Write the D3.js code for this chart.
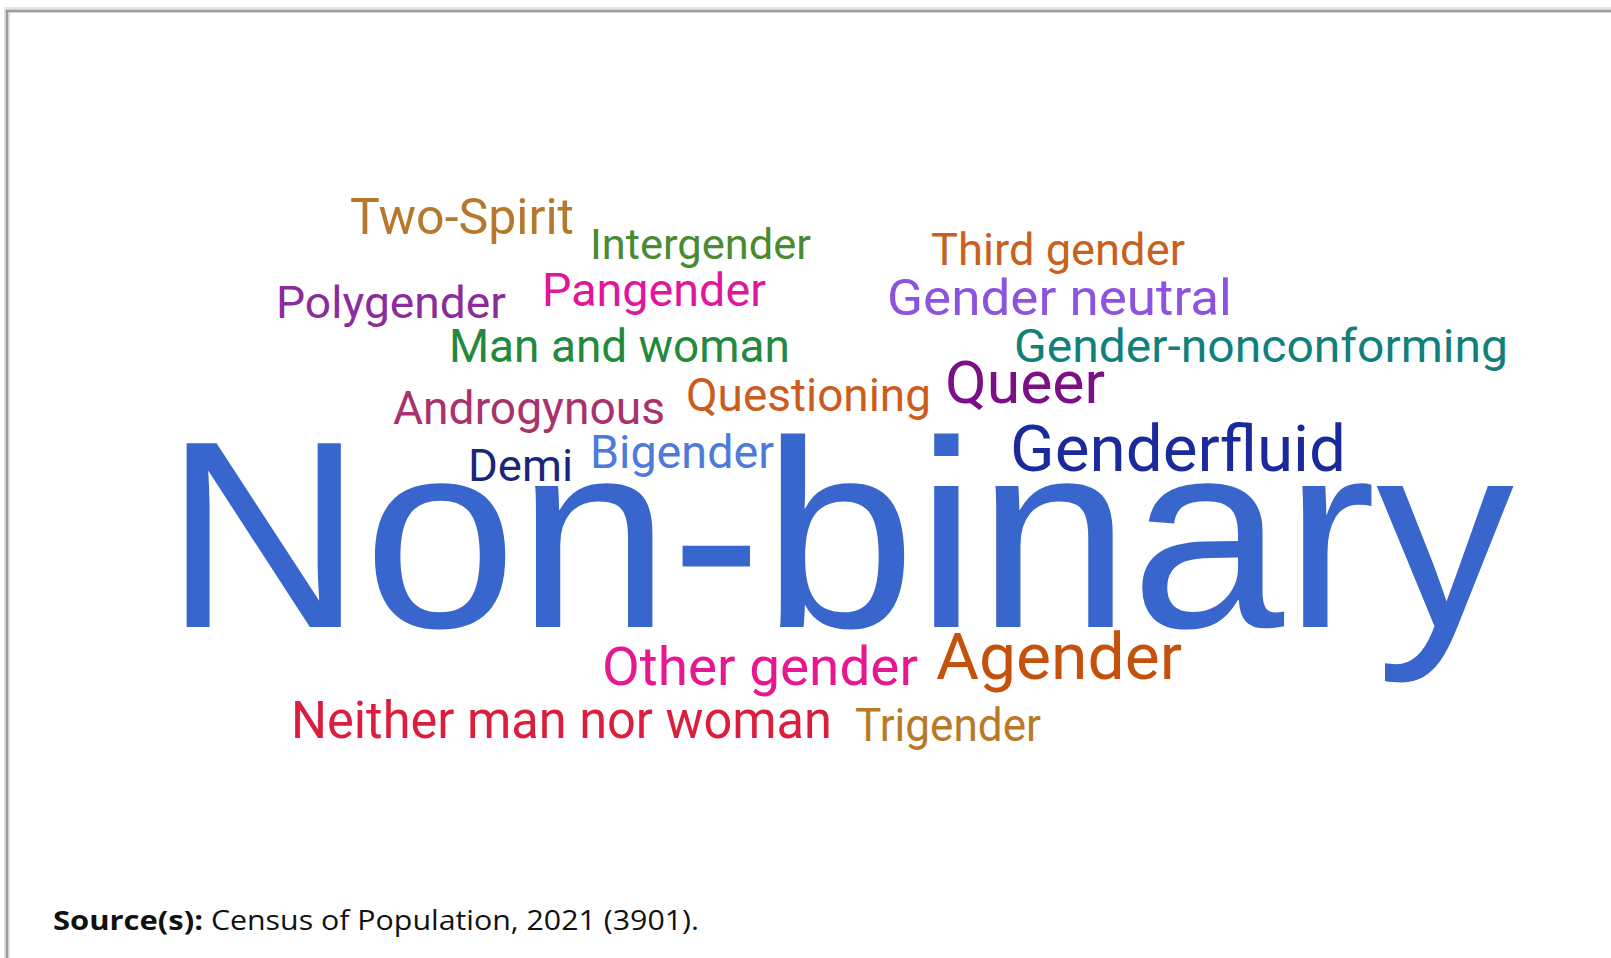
<!DOCTYPE html>
<html>
<head>
<meta charset="utf-8">
<script src="https://cdn.jsdelivr.net/npm/d3@7"></script>
<style>
  html, body { margin: 0; padding: 0; background: #fff; }
  svg { display: block; }
</style>
</head>
<body>
<svg id="chart" width="1611" height="958"></svg>
<script>
// words in the cloud and their relative weight (largest = 100)
const words = [
  'Non-binary', 'Genderfluid', 'Agender', 'Queer', 'Other gender',
  'Neither man nor woman', 'Two-Spirit', 'Gender neutral', 'Gender-nonconforming',
  'Man and woman', 'Androgynous', 'Questioning', 'Bigender', 'Pangender',
  'Trigender', 'Third gender', 'Polygender', 'Demi', 'Intergender'
]
const weights = [100, 24.3, 24.3, 22.5, 19.9, 19.5, 18.7, 18.7, 17.6, 17.2, 17.2, 17.2, 17.2, 17.2, 17.2, 16.9, 16.9, 16.5, 16.1]
const colors = [
  '#3866cc', '#1a2a9c', '#c4520c', '#7b0f86', '#e61790',
  '#dc1e3e', '#b5782c', '#8c52e0', '#12807a',
  '#23893c', '#a8336c', '#cc5c1c', '#4e7bd8', '#e0169c',
  '#b87a26', '#c8601e', '#8b2c9c', '#1b257c', '#4a8a30'
]

const sourceLabel = 'Source(s):'
const sourceText = ' Census of Population, 2021 (3901).'

// where each word sits in the cloud: left, baseline, text length
const layout = {
  'Non-binary': [164, 627, 1350],
  'Genderfluid': [1010, 471, 336],
  'Agender': [936, 679, 246],
  'Queer': [945, 403, 160],
  'Other gender': [602, 685, 316],
  'Neither man nor woman': [291, 738, 541],
  'Two-Spirit': [350, 234, 224],
  'Gender neutral': [887, 315, 345],
  'Gender-nonconforming': [1014, 362, 494],
  'Man and woman': [449, 362, 341],
  'Androgynous': [393, 424, 272],
  'Questioning': [686, 411, 245],
  'Bigender': [590, 468, 184],
  'Pangender': [542, 306, 224],
  'Trigender': [855, 741, 186],
  'Third gender': [931, 265, 254],
  'Polygender': [276, 318, 230],
  'Demi': [468, 481, 105],
  'Intergender': [590, 259, 221]
}

const svg = d3.select('#chart')

const size = d3.scaleLinear().domain([0, 100]).range([0, 267])

// frame: top and left rule with a soft shadow
const frame = svg.append('g').attr('class', 'frame')
frame.append('path')
  .attr('d', 'M7,1611 V10 H1611')
  .attr('fill', 'none')
  .attr('stroke', '#e4e4e4')
  .attr('stroke-width', 6)
frame.append('path')
  .attr('d', 'M7,1611 V11 H1611')
  .attr('fill', 'none')
  .attr('stroke', '#9c9c9c')
  .attr('stroke-width', 2.5)

const data = words.map((w, i) => ({ text: w, weight: weights[i], color: colors[i] }))

svg.append('g')
  .attr('class', 'cloud')
  .selectAll('text')
  .data(data)
  .join('text')
  .attr('x', d => layout[d.text][0])
  .attr('y', d => layout[d.text][1])
  .attr('textLength', d => layout[d.text][2])
  .attr('lengthAdjust', 'spacingAndGlyphs')
  .attr('font-family', d => d.weight === 100 ? '"Liberation Sans", Arial, sans-serif' : 'Roboto, sans-serif')
  .attr('font-size', d => size(d.weight))
  .attr('fill', d => d.color)
  .text(d => d.text)

const src = svg.append('text')
  .attr('x', 53)
  .attr('y', 930)
  .attr('font-family', '"Open Sans", "Noto Sans", sans-serif')
  .attr('font-size', 27)
  .attr('fill', '#111')
src.append('tspan')
  .attr('font-weight', 700)
  .attr('textLength', 150)
  .attr('lengthAdjust', 'spacingAndGlyphs')
  .text(sourceLabel)
src.append('tspan')
  .attr('textLength', 496)
  .attr('lengthAdjust', 'spacingAndGlyphs')
  .text(sourceText)
</script>
</body>
</html>
